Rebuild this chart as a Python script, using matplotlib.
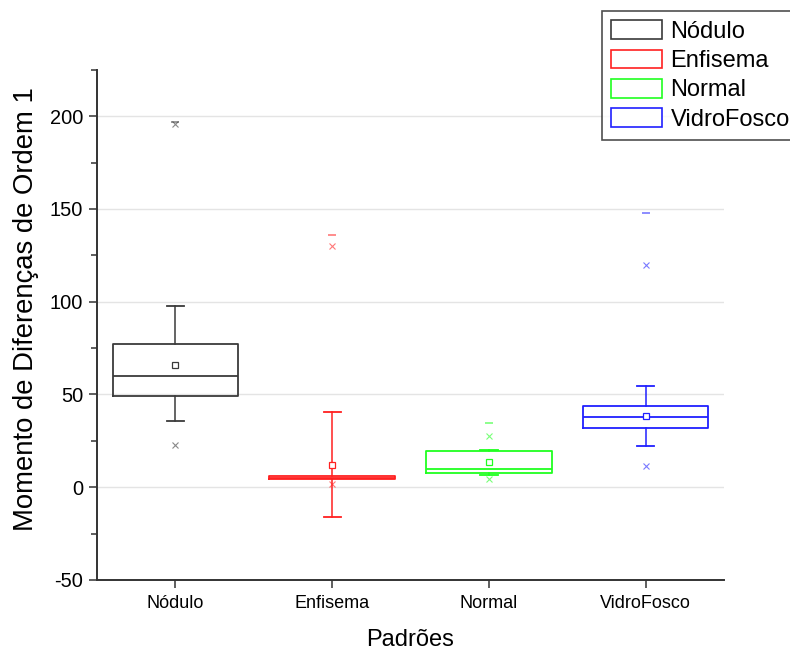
import matplotlib
matplotlib.use("Agg")
import matplotlib.pyplot as plt
import numpy as np
from matplotlib.patches import Rectangle
from matplotlib.ticker import MultipleLocator

plt.rcParams['font.family'] = ['Liberation Sans', 'DejaVu Sans']
plt.rcParams['axes.unicode_minus'] = False

categories = ["Nódulo", "Enfisema", "Normal", "VidroFosco"]
colors = ["#3a3a3a", "#ff2020", "#20ff20", "#2020ff"]
q1 = [49.0, 4.3, 7.5, 31.8]
median = [60.0, 5.0, 10.0, 37.7]
q3 = [77.0, 6.2, 19.5, 43.7]
whis_lo = [35.6, -16.0, 6.5, 22.0]
whis_hi = [97.6, 40.5, 20.0, 54.5]
mean = [66.0, 12.0, 13.5, 38.5]
p1 = [23.0, 1.6, 4.3, 11.3]
p99 = [195.7, 130.0, 27.5, 120.0]
vmax = [197.0, 136.0, 34.5, 148.0]

fig = plt.figure(figsize=(7.9, 6.53), dpi=100)
ax = fig.add_axes([0.1228, 0.1118, 0.7937, 0.7812])

pos = np.arange(1, len(categories) + 1)
for i, c in enumerate(categories):
    st = dict(med=median[i], q1=q1[i], q3=q3[i], whislo=whis_lo[i], whishi=whis_hi[i],
              mean=mean[i], fliers=[], label=c)
    col = colors[i]
    ax.bxp([st], positions=[pos[i]], widths=0.8, showmeans=False, showfliers=False,
           boxprops=dict(color=col, lw=1.3),
           medianprops=dict(color=col, lw=1.3),
           whiskerprops=dict(color=col, lw=1.1),
           capprops=dict(color=col, lw=1.3), capwidths=0.11,
           manage_ticks=False, zorder=3)
    ax.plot(pos[i], mean[i], marker='s', ms=4.5, mfc='white', mec=col, mew=0.9, ls='none', zorder=4)
    ax.plot([pos[i], pos[i]], [p1[i], p99[i]], marker='x', ms=5, mec=col, mew=0.8,
            ls='none', alpha=0.6, zorder=4)
    ax.plot(pos[i], vmax[i], marker='_', ms=6, mec=col, mew=1.2, ls='none', alpha=0.6, zorder=4)

ax.set_xlim(0.5, 4.5)
ax.set_ylim(-50, 225)
ax.set_xticks(pos)
ax.set_xticklabels(categories, fontsize=13)
ax.yaxis.set_major_locator(MultipleLocator(50))
ax.yaxis.set_minor_locator(MultipleLocator(25))
ax.tick_params(axis='y', labelsize=14.4, length=6, width=1.1, pad=4, colors='#333333', labelcolor='black')
ax.tick_params(axis='y', which='minor', length=4, width=1.1, colors='#333333')
ax.tick_params(axis='x', length=6, width=1.1, pad=5, colors='#333333', labelcolor='black')

for s in ['top', 'right']:
    ax.spines[s].set_visible(False)
for s in ['left', 'bottom']:
    ax.spines[s].set_linewidth(1.4)
    ax.spines[s].set_color('#333333')

ax.grid(axis='y', which='major', color='#e4e4e4', lw=1.0, zorder=0)
ax.set_axisbelow(True)

ax.set_xlabel("Padrões", fontsize=17, labelpad=12)
ax.set_ylabel("Momento de Diferenças de Ordem 1", fontsize=19.8, labelpad=8)
ax.yaxis.set_label_coords(-0.092, 0.532)

handles = [Rectangle((0, 0), 1, 1, facecolor='white', edgecolor=c, lw=1.2) for c in colors]
leg = fig.legend(handles, categories, loc='upper left', bbox_to_anchor=(602 / 790, 1 - 11 / 653),
                 fontsize=17, frameon=True, fancybox=False, edgecolor='#222222',
                 handlelength=2.15, handleheight=0.85, handletextpad=0.35, labelspacing=0.28,
                 borderpad=0.4, borderaxespad=0)
leg.get_frame().set_linewidth(1.2)

fig.savefig("out.png", dpi=100)
